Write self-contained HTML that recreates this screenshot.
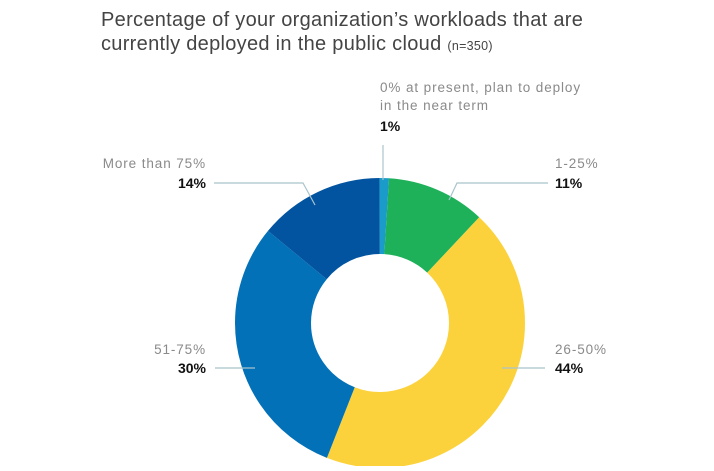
<!DOCTYPE html>
<html><head><style>
body{margin:0;width:714px;height:466px;background:#fff;overflow:hidden;font-family:"Liberation Sans",sans-serif}
</style></head><body>
<svg width="714" height="466" xmlns="http://www.w3.org/2000/svg" font-family="Liberation Sans, sans-serif">
<text x="101" y="26" font-size="20" fill="#444" letter-spacing="0.3">Percentage of your organization’s workloads that are</text>
<text x="101" y="50" font-size="20" fill="#444" letter-spacing="0.3">currently deployed in the public cloud <tspan font-size="12.5">(n=350)</tspan></text>
<g transform="rotate(-90 380 323)" fill="none" stroke-width="76">
<circle cx="380" cy="323" r="107" pathLength="100" stroke="#1a9bc9" stroke-dasharray="1 99" stroke-dashoffset="0"/>
<circle cx="380" cy="323" r="107" pathLength="100" stroke="#1eb15a" stroke-dasharray="11 89" stroke-dashoffset="-1"/>
<circle cx="380" cy="323" r="107" pathLength="100" stroke="#fcd23c" stroke-dasharray="44 56" stroke-dashoffset="-12"/>
<circle cx="380" cy="323" r="107" pathLength="100" stroke="#0271b8" stroke-dasharray="30 70" stroke-dashoffset="-56"/>
<circle cx="380" cy="323" r="107" pathLength="100" stroke="#0254a0" stroke-dasharray="14 86" stroke-dashoffset="-86"/>
</g>
<g stroke="#a9c4cc" stroke-width="1.2" fill="none">
<path d="M383 145V180"/>
<path d="M214 183H303L315 205"/>
<path d="M548 183H457L449 200"/>
<path d="M215 368H255"/>
<path d="M502 368H545"/>
</g>
<g font-size="13.5" fill="#8a8a8a" letter-spacing="0.9">
<text x="380" y="92">0% at present, plan to deploy</text>
<text x="380" y="110">in the near term</text>
<text x="206" y="168" text-anchor="end">More than 75%</text>
<text x="555" y="168">1-25%</text>
<text x="206" y="354" text-anchor="end">51-75%</text>
<text x="555" y="354">26-50%</text>
</g>
<g font-size="14" font-weight="bold" fill="#111">
<text x="380" y="131">1%</text>
<text x="206" y="188" text-anchor="end">14%</text>
<text x="555" y="188">11%</text>
<text x="206" y="373" text-anchor="end">30%</text>
<text x="555" y="373">44%</text>
</g>
</svg>
</body></html>
